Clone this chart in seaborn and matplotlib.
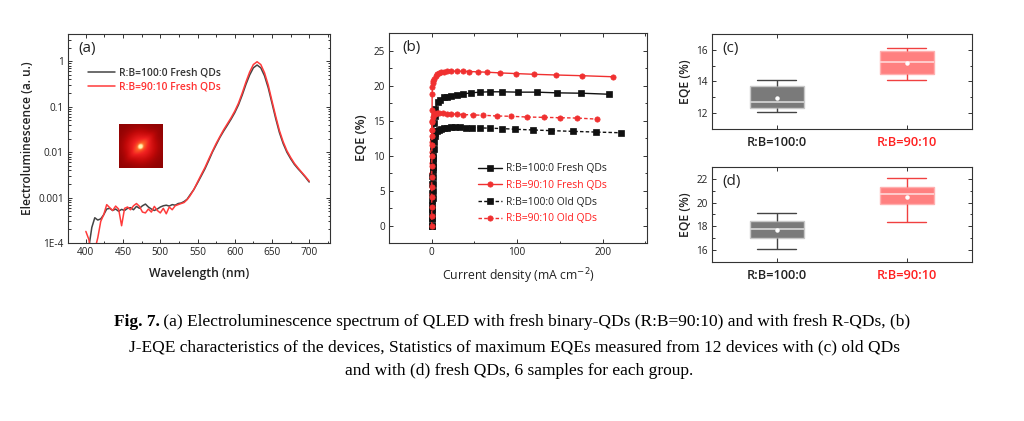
import numpy as np
import pandas as pd
import matplotlib
matplotlib.use('Agg')
import matplotlib.pyplot as plt
import seaborn as sns
from matplotlib.colors import LinearSegmentedColormap
from matplotlib.ticker import NullFormatter, MultipleLocator

# (a) EL spectra
wavelength = np.concatenate([np.arange(400, 541, 4), np.arange(545, 701, 5)])
el_100_0 = [6e-5, 8e-5, 2.2e-4, 3.6e-4, 3.2e-4, 3.4e-4, 4.2e-4, 5.6e-4, 5.8e-4, 5.2e-4,
            5.6e-4, 5.0e-4, 5.5e-4, 5.2e-4, 5.8e-4, 6.0e-4, 5.4e-4, 6.4e-4, 5.8e-4, 6.6e-4,
            7.2e-4, 6.2e-4, 5.6e-4, 5.2e-4, 5.6e-4, 6.2e-4, 6.6e-4, 6.8e-4, 6.5e-4, 7.0e-4,
            6.8e-4, 7.4e-4, 7.6e-4, 8.2e-4, 9.2e-4, 1.15e-3,
            1.5e-3, 2.1e-3, 3.0e-3, 4.3e-3, 6.5e-3, 0.0100, 0.0145, 0.021, 0.029, 0.039,
            0.053, 0.074, 0.11, 0.18, 0.31, 0.50, 0.72, 0.83, 0.72, 0.48,
            0.26, 0.12, 0.055, 0.027, 0.0155, 0.0100, 0.0072, 0.0054, 0.0043, 0.0035,
            0.0028, 0.0022]
el_90_10 = [1.8e-4, 1.2e-4, 5e-5, 7e-5, 1.3e-4, 3.0e-4, 4.2e-4, 7.0e-4, 6.0e-4, 5.2e-4,
            6.5e-4, 5.6e-4, 2.4e-4, 5.8e-4, 6.2e-4, 5.4e-4, 6.6e-4, 7.4e-4, 6.4e-4, 4.8e-4,
            4.6e-4, 5.6e-4, 4.8e-4, 6.4e-4, 5.2e-4, 4.6e-4, 5.8e-4, 4.4e-4, 6.2e-4, 5.4e-4,
            6.6e-4, 7.0e-4, 7.4e-4, 7.8e-4, 9.0e-4, 1.1e-3,
            1.5e-3, 2.2e-3, 3.2e-3, 4.6e-3, 7.0e-3, 0.0105, 0.0155, 0.022, 0.031, 0.042,
            0.057, 0.080, 0.12, 0.20, 0.35, 0.58, 0.85, 0.98, 0.85, 0.56,
            0.30, 0.135, 0.062, 0.030, 0.017, 0.0108, 0.0077, 0.0057, 0.0045, 0.0036,
            0.0029, 0.0023]

# (b) J-EQE curves
j_fresh_100 = [0, 0.1, 0.2, 0.3, 0.45, 0.6, 0.8, 1.0, 1.2, 1.5, 1.8, 2.2, 2.7, 3.3, 4.3,
               7, 10, 14, 18, 23, 29, 37, 46, 56, 68, 82, 101, 123, 147, 175, 208]
eqe_fresh_100 = [0, 1.1, 2.4, 3.6, 4.7, 5.9, 7.1, 8.3, 9.7, 11.0, 12.3, 13.5, 14.6, 15.6, 16.7,
                 17.7, 18.0, 18.3, 18.4, 18.55, 18.7, 18.8, 18.95, 19.05, 19.1, 19.1, 19.05,
                 19.05, 18.95, 18.9, 18.75]
j_fresh_90 = [0, 0, 0, 0, 0, 0, 0.1, 0.1, 0.2, 0.2, 0.3, 0.4, 0.5, 0.8, 1.2, 2, 3.1, 4.7,
              6.3, 8.2, 11, 14, 18, 23, 29, 36, 44, 54, 65, 80, 99, 120, 146, 176, 212]
eqe_fresh_90 = [0, 1.5, 3.0, 4.5, 6.0, 7.5, 9.0, 10.5, 12.0, 13.6, 15.0, 16.5, 18.8, 19.85,
                20.3, 20.7, 21.0, 21.4, 21.6, 21.75, 21.9, 22.0, 22.05, 22.05, 22.05, 22.05,
                22.0, 21.95, 21.9, 21.8, 21.7, 21.6, 21.5, 21.4, 21.25]
j_old_100 = [0.5, 0.6, 0.7, 0.8, 0.9, 1.0, 1.1, 1.2, 1.4, 1.6, 1.9, 2.3, 2.8, 3.5, 4.3, 6, 8,
             11, 14, 18, 22, 27, 33, 40, 47, 56, 68, 82, 98, 118, 140, 165, 192, 221]
eqe_old_100 = [0, 1.0, 2.0, 3.0, 4.0, 5.0, 6.0, 7.0, 8.0, 9.0, 10.0, 11.0, 12.0, 12.8, 13.2,
               13.5, 13.7, 13.85, 13.95, 14.0, 14.05, 14.05, 14.05, 14.0, 14.0, 13.95, 13.9,
               13.85, 13.75, 13.65, 13.55, 13.45, 13.35, 13.25]
j_old_90 = [0, 0, 0, 0, 0, 0, 0.1, 0.1, 0.2, 0.3, 0.5, 0.8, 1.5, 2.7, 4.2, 6.2, 9, 13, 18,
            23, 29, 37, 48, 60, 76, 93, 111, 131, 150, 170, 193]
eqe_old_90 = [0, 1.3, 2.7, 4.1, 5.5, 7.0, 8.5, 10.0, 11.5, 12.8, 13.7, 14.8, 15.5, 15.9, 16.0,
              16.05, 16.05, 16.05, 16.0, 15.95, 15.9, 15.85, 15.8, 15.75, 15.65, 15.6, 15.5,
              15.45, 15.4, 15.35, 15.2]

# (c), (d) max EQE of 6 devices per group
ratios = ['R:B=100:0', 'R:B=90:10']
old_100 = [12.1, 12.25, 12.45, 12.95, 14.0, 14.1]
old_90 = [14.1, 14.37, 14.9, 15.5, 16.05, 16.1]
fresh_100 = [16.1, 16.9, 17.5, 18.0, 18.6, 19.1]
fresh_90 = [18.4, 19.63, 20.5, 20.9, 21.5, 22.1]

BLACK = '#111111'
RED = '#f03030'
GRAY_LINE = '#444444'
TXT = '#222222'

sns.set_style('ticks')
plt.rcParams['font.family'] = ['Open Sans', 'DejaVu Sans']
plt.rcParams['axes.edgecolor'] = '#333333'
plt.rcParams['axes.linewidth'] = 0.8

fig = plt.figure(figsize=(10.24, 4.21), dpi=100)
ax_a = fig.add_axes([0.0664, 0.4228, 0.2559, 0.4964])
ax_b = fig.add_axes([0.3799, 0.4228, 0.2520, 0.4988])
ax_c = fig.add_axes([0.6953, 0.6936, 0.2539, 0.2257])
ax_d = fig.add_axes([0.6953, 0.3777, 0.2539, 0.2257])


def style_ticks(ax):
    ax.tick_params(which='both', direction='in', top=True, right=True,
                   color='#333333', width=0.7, labelsize=7.2, pad=3, labelcolor=TXT)
    ax.tick_params(which='major', length=3)
    ax.tick_params(which='minor', length=1.8)


# ---- (a)
df_a = pd.DataFrame({'wl': np.concatenate([wavelength, wavelength]),
                     'el': el_100_0 + el_90_10,
                     'sample': ['R:B=100:0 Fresh QDs'] * len(wavelength) + ['R:B=90:10 Fresh QDs'] * len(wavelength)})
sns.lineplot(data=df_a, x='wl', y='el', hue='sample',
             palette={'R:B=100:0 Fresh QDs': GRAY_LINE, 'R:B=90:10 Fresh QDs': '#ff3b3b'},
             estimator=None, sort=False, linewidth=1.1, ax=ax_a)
ax_a.set_yscale('log')
ax_a.set_xlim(376, 728)
ax_a.set_ylim(1e-4, 4)
ax_a.set_yticks([1e-4, 1e-3, 1e-2, 1e-1, 1])
ax_a.set_yticklabels(['1E-4', '0.001', '0.01', '0.1', '1'])
ax_a.yaxis.set_minor_formatter(NullFormatter())
ax_a.set_xticks([400, 450, 500, 550, 600, 650, 700])
ax_a.xaxis.set_minor_locator(MultipleLocator(25))
style_ticks(ax_a)
ax_a.set_xlabel('Wavelength (nm)', fontsize=8.8, fontweight='semibold', color=TXT, labelpad=6)
ax_a.set_ylabel('Electroluminescence (a. u.)', fontsize=8.6, fontweight='semibold', color=TXT, labelpad=3)
ax_a.text(0.04, 0.965, '(a)', transform=ax_a.transAxes, fontsize=11, va='top', ha='left', color=TXT)
leg = ax_a.legend(loc='upper left', bbox_to_anchor=(0.06, 0.86), frameon=False, fontsize=7.4,
                  handlelength=2.6, handletextpad=0.4, borderaxespad=0, labelspacing=0.35)
for t, c in zip(leg.get_texts(), ['#333333', '#ff3030']):
    t.set_color(c)
    t.set_fontweight('semibold')

# inset photo of the emitting pixel
ax_in = fig.add_axes([0.1162, 0.601, 0.043, 0.1045])
gy, gx = np.mgrid[-1:1:60j, -1:1:60j]
r = np.hypot(gx + 0.02, gy - 0.02)
diag = np.exp(-((gx + gy) ** 2) / 0.06) * np.exp(-(gx - gy) ** 2 / 1.2)
glow = 0.28 + 0.45 * np.exp(-r ** 2 / 0.4) + 0.35 * np.exp(-r ** 2 / 0.012) + 0.12 * diag
cmap_in = LinearSegmentedColormap.from_list('glow', ['#700000', '#c00808', '#f02020', '#ff6a2a', '#fff4b0'])
ax_in.imshow(glow, cmap=cmap_in, vmin=0.2, vmax=1.05)
ax_in.set_xticks([])
ax_in.set_yticks([])
for s in ax_in.spines.values():
    s.set_visible(False)

# ---- (b)
curves = [
    ('R:B=100:0 Fresh QDs', j_fresh_100, eqe_fresh_100, BLACK, 's', '-'),
    ('R:B=90:10 Fresh QDs', j_fresh_90, eqe_fresh_90, RED, 'o', '-'),
    ('R:B=100:0 Old QDs', j_old_100, eqe_old_100, BLACK, 's', (0, (2.5, 1.6))),
    ('R:B=90:10 Old QDs', j_old_90, eqe_old_90, RED, 'o', (0, (2.5, 1.6))),
]
for name, jx, ey, col, mk, ls in curves:
    d = pd.DataFrame({'j': jx, 'eqe': ey})
    sns.lineplot(data=d, x='j', y='eqe', estimator=None, sort=False, ax=ax_b, color=col,
                 marker=mk, markersize=3.8, markeredgecolor=col, markeredgewidth=0.5,
                 linestyle=ls, linewidth=1.0, label=name)
ax_b.set_xlim(-50, 252)
ax_b.set_ylim(-2.5, 27.5)
ax_b.set_xticks([0, 100, 200])
ax_b.xaxis.set_minor_locator(MultipleLocator(50))
ax_b.set_yticks([0, 5, 10, 15, 20, 25])
ax_b.yaxis.set_minor_locator(MultipleLocator(2.5))
style_ticks(ax_b)
ax_b.set_xlabel('Current density (mA cm$^{-2}$)', fontsize=8.8, color=TXT, labelpad=6)
ax_b.set_ylabel('EQE (%)', fontsize=9.2, fontweight='semibold', color=TXT, labelpad=4)
ax_b.text(0.05, 0.965, '(b)', transform=ax_b.transAxes, fontsize=11, va='top', ha='left', color=TXT)
leg = ax_b.legend(loc='upper left', bbox_to_anchor=(0.33, 0.40), frameon=False, fontsize=7.5,
                  handlelength=2.3, handletextpad=0.35, borderaxespad=0, labelspacing=0.55)
for t, c in zip(leg.get_texts(), [TXT, '#ff2020', TXT, '#ff2020']):
    t.set_color(c)

# ---- (c) and (d)
box_style = {
    'R:B=100:0': dict(face='#7a7a7a', edge='#c8c8c8', line='#444444', med='#d8d8d8'),
    'R:B=90:10': dict(face='#ff8080', edge='#ffb0b0', line='#f04040', med='#ffd8d8'),
}


def draw_boxes(ax, vals_100, vals_90, ylim, ticks, label):
    df = pd.DataFrame({'ratio': [ratios[0]] * len(vals_100) + [ratios[1]] * len(vals_90),
                       'eqe': vals_100 + vals_90})
    for g in ratios:
        st = box_style[g]
        sns.boxplot(data=df[df['ratio'] == g], x='ratio', y='eqe', order=ratios, ax=ax,
                    width=0.41, color=st['face'], linecolor=st['line'], linewidth=1.0,
                    saturation=1, showmeans=True, capwidths=0.3,
                    boxprops=dict(facecolor=st['face'], edgecolor=st['edge'], linewidth=1.0),
                    medianprops=dict(color=st['med'], linewidth=1.2),
                    whiskerprops=dict(color=st['line'], linewidth=1.0),
                    capprops=dict(color=st['line'], linewidth=1.0),
                    meanprops=dict(marker='o', markerfacecolor='white', markeredgecolor='white',
                                   markersize=2.2))
    ax.set_xlim(-0.5, 1.5)
    ax.set_ylim(*ylim)
    ax.set_yticks(ticks)
    ax.yaxis.set_minor_locator(MultipleLocator(1))
    style_ticks(ax)
    ax.tick_params(axis='x', which='minor', bottom=False, top=False)
    ax.tick_params(axis='x', labelsize=9.2, pad=5)
    for t, c in zip(ax.get_xticklabels(), [TXT, '#ff2020']):
        t.set_color(c)
        t.set_fontweight('semibold')
    ax.set_xlabel('')
    ax.set_ylabel('EQE (%)', fontsize=8.8, fontweight='semibold', color=TXT, labelpad=3)
    ax.text(0.04, 0.93, label, transform=ax.transAxes, fontsize=11, va='top', ha='left', color=TXT)


draw_boxes(ax_c, old_100, old_90, (11, 17), [12, 14, 16], '(c)')
draw_boxes(ax_d, fresh_100, fresh_90, (15, 23), [16, 18, 20, 22], '(d)')

# ---- caption
cap_font = dict(family=['Liberation Serif', 'DejaVu Serif'], fontsize=12.5, color='black')
line1 = fig.text(0.5225, 0.235, ' (a) Electroluminescence spectrum of QLED with fresh binary-QDs (R:B=90:10) and with fresh R-QDs, (b)',
                 ha='center', va='center', **cap_font)
ax_b.annotate('Fig. 7.', xy=(0, 0), xycoords=line1, ha='right', va='bottom',
              annotation_clip=False, fontweight='bold', **cap_font)
fig.text(0.502, 0.176, 'J-EQE characteristics of the devices, Statistics of maximum EQEs measured from 12 devices with (c) old QDs',
         ha='center', va='center', **cap_font)
fig.text(0.507, 0.119, 'and with (d) fresh QDs, 6 samples for each group.',
         ha='center', va='center', **cap_font)

fig.savefig('out.png', dpi=100)
